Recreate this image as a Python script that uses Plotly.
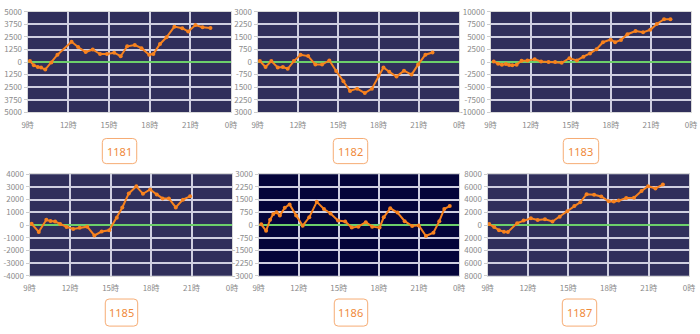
import plotly.graph_objects as go

# Machine numbers shown under each panel
machines = ["1181", "1182", "1183", "1185", "1186", "1187"]

# Hour of day (decimal) and running balance for each machine
hours_1181 = [9.17, 9.46, 9.75, 9.99, 10.30, 10.75, 11.2, 12.24, 12.72, 13.28, 13.8, 14.34, 14.85, 15.38, 15.86,
              16.34, 16.9, 17.4, 17.96, 18.27, 18.76, 19.24, 19.82, 20.4, 20.84, 21.37, 21.9, 22.48]
vals_1181 = [100, -320, -480, -545, -740, -50, 740, 2020, 1500, 1000, 1250, 800, 800, 930, 580,
             1570, 1700, 1380, 740, 800, 1800, 2470, 3525, 3365, 3045, 3685, 3460, 3400]

hours_1182 = [9.17, 9.59, 10.02, 10.5, 10.88, 11.24, 11.7, 12.2, 12.76, 13.3, 13.8, 14.34, 14.85, 15.39,
              15.88, 16.41, 16.98, 17.51, 18.0, 18.37, 18.8, 19.34, 19.9, 20.46, 20.95, 21.49, 22.02]
vals_1182 = [60, -290, 60, -325, -290, -400, 60, 440, 360, -150, -150, 95, -535, -1150,
             -1720, -1585, -1850, -1585, -820, -325, -575, -860, -515, -745, -150, 440, 575]

hours_1183 = [9.24, 9.56, 9.85, 10.15, 10.39, 10.63, 10.95, 11.32, 11.76, 12.3, 12.78, 13.34, 13.83, 14.32,
              14.9, 15.46, 15.95, 16.44, 16.93, 17.41, 17.98, 18.32, 18.76, 19.24, 19.85, 20.41, 20.95,
              21.44, 21.98, 22.46]
vals_1183 = [130, -320, -510, -380, -575, -640, -510, 255, 320, 575, 130, 0, 0, -130,
             765, 320, 1080, 1720, 2550, 3950, 4460, 3950, 4400, 5540, 6180, 5920, 6430,
             7580, 8540, 8540]

hours_1185 = [9.15, 9.68, 10.24, 10.55, 10.89, 11.26, 11.74, 12.23, 12.71, 13.27, 13.8, 14.34, 14.9,
              15.46, 15.87, 16.35, 16.91, 17.4, 17.93, 18.42, 18.85, 19.32, 19.83, 20.36, 20.89]
vals_1185 = [100, -540, 410, 310, 280, 80, -150, -310, -205, -130, -820, -510, -410,
             565, 1385, 2490, 3050, 2460, 2800, 2410, 2100, 2100, 1385, 2000, 2260]

hours_1186 = [9.2, 9.56, 9.86, 10.1, 10.34, 10.59, 10.96, 11.32, 11.81, 12.3, 12.79, 13.35, 13.89, 14.38,
              14.94, 15.48, 15.97, 16.46, 17.02, 17.5, 18.05, 18.36, 18.85, 19.39, 19.93, 20.49, 20.98,
              21.52, 22.08, 22.52, 22.89, 23.3]
vals_1186 = [40, -340, 320, 650, 760, 570, 1025, 1215, 570, -40, 455, 1370, 950, 685,
             265, 210, -150, -95, 170, -95, -150, 455, 990, 740, 230, -57, -20,
             -645, -455, 230, 950, 1120]

hours_1187 = [9.12, 9.49, 9.85, 10.22, 10.51, 11.2, 11.68, 12.22, 12.73, 13.27, 13.83, 14.37, 14.93,
              15.46, 15.9, 16.37, 16.93, 17.46, 18.02, 18.39, 18.76, 19.32, 19.9, 20.46, 20.95, 21.49, 22.05]
vals_1187 = [150, -300, -810, -1060, -1110, 300, 710, 1060, 810, 910, 560, 1315, 2180,
             2990, 3590, 4860, 4760, 4500, 3740, 3690, 3850, 4250, 4300, 5360, 6120, 5770, 6380]

# Axis scales per panel
y_limits = [5000, 3000, 10000, 4000, 3000, 8000]
y_tick_labels = [
    ["5000", "3750", "2500", "1250", "0", "1250", "2500", "3750", "5000"],
    ["3000", "2250", "1500", "750", "0", "-750", "1500", "2250", "3000"],
    ["10000", "7500", "5000", "2500", "0", "-2500", "-5000", "-7500", "-10000"],
    ["4000", "3000", "2000", "1000", "0", "-1000", "-2000", "-3000", "-4000"],
    ["3000", "2250", "1500", "750", "0", "-750", "-1500", "-2250", "-3000"],
    ["8000", "6000", "4000", "2000", "0", "2000", "4000", "6000", "8000"],
]
x_tick_hours = [9, 12, 15, 18, 21, 24]
x_tick_labels = ["9時", "12時", "15時", "18時", "21時", "0時"]

series = [(hours_1181, vals_1181), (hours_1182, vals_1182), (hours_1183, vals_1183),
          (hours_1185, vals_1185), (hours_1186, vals_1186), (hours_1187, vals_1187)]

W, H = 700, 334
# Plot-area pixel boxes (left, right, top, bottom)
boxes = [(22, 229, 6, 110), (256, 461, 6, 110), (493, 697, 6, 110),
         (24, 230, 174, 279), (257, 461, 174, 279), (490, 695, 174, 279)]
# Label badge pixel boxes (left, right, top, bottom)
badges = [(98, 133, 137, 163), (333, 368, 137, 163), (567, 603, 137, 163),
          (101, 134, 303, 331), (334, 368, 303, 331), (566, 601, 303, 331)]
backgrounds = ["#302f5b", "#302f5b", "#302f5b", "#302f5b", "#05053a", "#302f5b"]

fig = go.Figure()
layout = dict(width=W, height=H, margin=dict(l=0, r=0, t=0, b=0),
              paper_bgcolor="white", showlegend=False, shapes=[], annotations=[])

tick_font = dict(family="Noto Sans CJK JP, Noto Sans, sans-serif", size=8, color="#8a8a8a")


def rounded_path(x0, x1, y0, y1, r):
    # Rounded rectangle in paper coordinates from pixel bounds
    px = lambda v: v / W
    py = lambda v: 1 - v / H
    return (f"M {px(x0 + r)},{py(y0)} L {px(x1 - r)},{py(y0)} "
            f"Q {px(x1)},{py(y0)} {px(x1)},{py(y0 + r)} "
            f"L {px(x1)},{py(y1 - r)} Q {px(x1)},{py(y1)} {px(x1 - r)},{py(y1)} "
            f"L {px(x0 + r)},{py(y1)} Q {px(x0)},{py(y1)} {px(x0)},{py(y1 - r)} "
            f"L {px(x0)},{py(y0 + r)} Q {px(x0)},{py(y0)} {px(x0 + r)},{py(y0)} Z")


for i, ((hx, vy), lim, labels, box, bg, badge, name) in enumerate(
        zip(series, y_limits, y_tick_labels, boxes, backgrounds, badges, machines)):
    n = "" if i == 0 else str(i + 1)
    l, r, t, b = box
    fig.add_trace(go.Scatter(
        x=hx, y=vy, mode="lines+markers", xaxis="x" + n, yaxis="y" + n,
        line=dict(color="#f7821e", width=2), marker=dict(size=4, color="#f7821e"),
        hoverinfo="skip"))
    layout["xaxis" + n] = dict(
        domain=[l / W, r / W], anchor="y" + n, range=[9, 24],
        tickvals=x_tick_hours, ticktext=x_tick_labels, tickfont=tick_font,
        showgrid=True, gridcolor="#cfcfe0", gridwidth=1.5, zeroline=False,
        showline=True, linecolor="#d8d8d8", linewidth=1, mirror=True,
        ticks="", ticklabelstandoff=5, fixedrange=True)
    step = lim / 4
    layout["yaxis" + n] = dict(
        domain=[1 - b / H, 1 - t / H], anchor="x" + n, range=[-lim, lim],
        tickvals=[lim - k * step for k in range(9)], ticktext=labels, tickfont=tick_font,
        showgrid=True, gridcolor="#cfcfe0", gridwidth=1.5,
        zeroline=True, zerolinecolor="#6ccf6a", zerolinewidth=2,
        showline=True, linecolor="#d8d8d8", linewidth=1, mirror=True,
        ticks="outside", ticklen=3, tickcolor="#cccccc", fixedrange=True)
    layout["shapes"].append(dict(type="rect", xref="paper", yref="paper",
                                 x0=l / W, x1=r / W, y0=1 - b / H, y1=1 - t / H,
                                 fillcolor=bg, line=dict(width=0), layer="below"))
    bx0, bx1, by0, by1 = badge
    layout["shapes"].append(dict(type="path", xref="paper", yref="paper",
                                 path=rounded_path(bx0, bx1, by0, by1, 4),
                                 fillcolor="white", line=dict(color="#f6ac74", width=1)))
    layout["annotations"].append(dict(
        xref="paper", yref="paper", x=(bx0 + bx1) / 2 / W, y=1 - (by0 + by1) / 2 / H,
        text=name, showarrow=False, xanchor="center", yanchor="middle",
        font=dict(family="Noto Sans, sans-serif", size=11, color="#f08a3a")))

fig.update_layout(**layout)
fig.write_html("out.html")
